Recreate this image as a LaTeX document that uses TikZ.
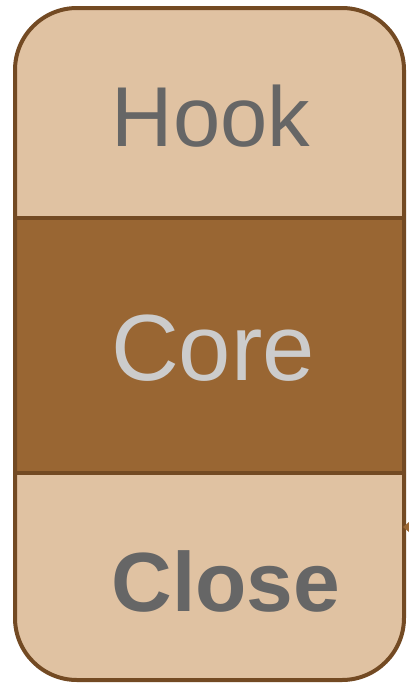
\documentclass[tikz,border=0pt]{standalone}
\usepackage{fontspec}
\setmainfont{Liberation Sans}
\definecolor{lightb}{HTML}{E0C2A2}
\definecolor{darkb}{HTML}{996633}
\definecolor{edgeb}{HTML}{734A23}
\definecolor{txtg}{HTML}{666666}
\definecolor{txtl}{HTML}{CCCCCC}
\begin{document}
\begin{tikzpicture}[x=1pt,y=-1pt,
  edge/.style={draw=edgeb,line width=4pt},
  lbl/.style={inner sep=0pt,anchor=center}]
\useasboundingbox (0,0) rectangle (409,683);
% outer rounded body
\fill[lightb,rounded corners=62pt] (15,8) rectangle (404,680);
% middle band
\fill[darkb] (15,218) rectangle (404,473);
\draw[edge] (15,218) -- (404,218);
\draw[edge] (15,473) -- (404,473);
\draw[edge,rounded corners=62pt] (15,8) rectangle (404,680);
% small arrowhead at right edge
\fill[darkb] (403,527) -- (409,522) -- (409,532) -- cycle;
\node[lbl,text=txtg,font=\fontsize{85}{100}\selectfont] (hook) at (211,116) {Hook};
\node[lbl,text=txtl,font=\fontsize{94}{110}\selectfont] (core) at (213,348) {Core};
\node[lbl,text=txtg,font=\bfseries\fontsize{84}{100}\selectfont] (close) at (226,581) {Close};
\end{tikzpicture}
\end{document}
